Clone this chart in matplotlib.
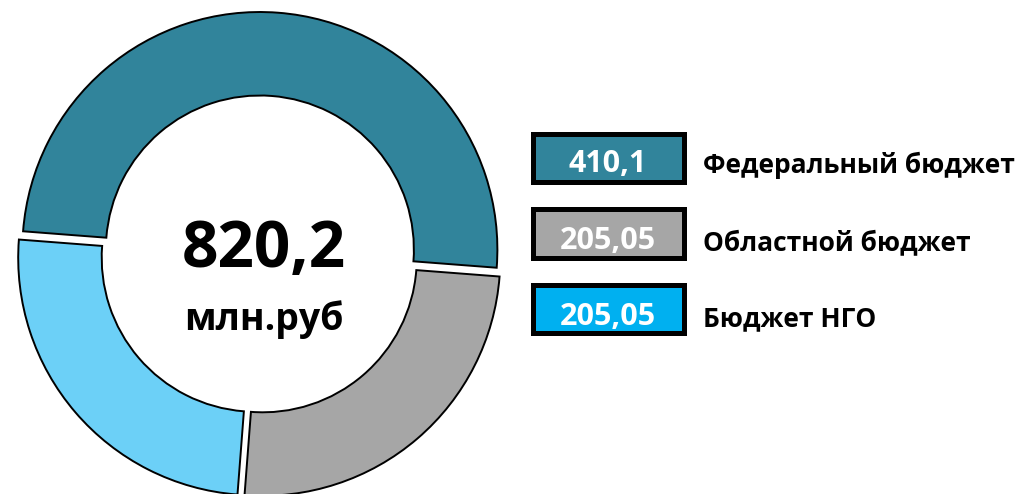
import matplotlib
matplotlib.use('Agg')
import matplotlib.pyplot as plt
from matplotlib.patches import Rectangle

categories = ['Федеральный бюджет', 'Областной бюджет', 'Бюджет НГО']
values = [410.1, 205.05, 205.05]
value_labels = ['410,1', '205,05', '205,05']
total_label = '820,2'
unit_label = 'млн.руб'

plt.rcParams['font.family'] = ['Open Sans', 'DejaVu Sans']

W, H = 1022, 494
fig = plt.figure(figsize=(W / 100, H / 100), dpi=100)
ax = fig.add_axes([0, 0, 1, 1])

donut_colors = ['#31849B', '#A6A6A6', '#6CD0F7']
legend_colors = ['#31849B', '#A6A6A6', '#00B0F0']

cx, cy = 259.5, H - 254.5
R = 237.5
ax.pie(values, colors=donut_colors, startangle=175.6, counterclock=False,
       radius=R, center=(cx, cy), explode=[5, 5, 5],
       wedgeprops=dict(width=83.5, edgecolor='black', linewidth=1.4))

ax.set_xlim(0, W)
ax.set_ylim(0, H)
ax.set_aspect('equal')
ax.axis('off')

# center text
ax.text(263.5, H - 267, total_label, ha='center', va='baseline',
        fontsize=46, fontweight='bold', color='black')
ax.text(264, H - 330, unit_label, ha='center', va='baseline',
        fontsize=27, fontweight='bold', color='black')

# legend boxes
box_tops = [132, 207, 283]
box_bottoms = [185, 261, 336]
label_baselines = [173, 250, 326]
lw_px = 5
for i, cat in enumerate(categories):
    t, b = box_tops[i], box_bottoms[i]
    x0, x1 = 530 + lw_px / 2, 686 - lw_px / 2
    y0, y1 = H - (b - lw_px / 2), H - (t + lw_px / 2)
    ax.add_patch(Rectangle((x0, y0), x1 - x0, y1 - y0, facecolor=legend_colors[i],
                           edgecolor='black', linewidth=lw_px * 0.72, joinstyle='miter'))
    ax.text(608, H - (label_baselines[i] - 1), value_labels[i], ha='center', va='baseline',
            fontsize=22, fontweight='bold', color='white')
    ax.text(703, H - label_baselines[i], cat, ha='left', va='baseline',
            fontsize=19, fontweight='bold', color='black')

fig.savefig('out.png', dpi=100)
